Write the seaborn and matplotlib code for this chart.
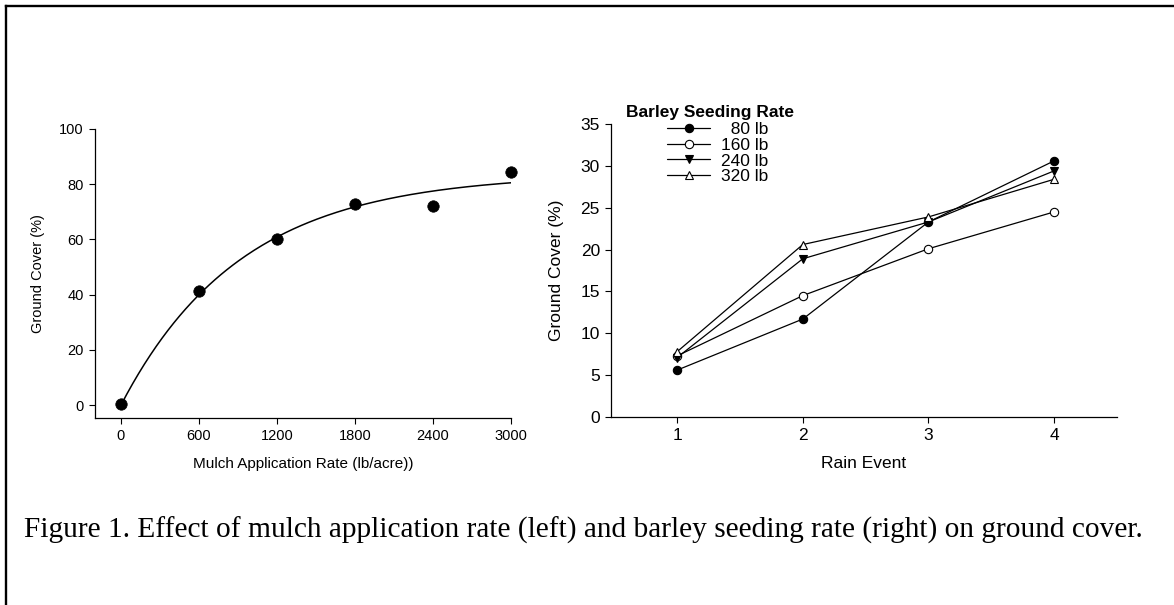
import numpy as np
import pandas as pd
import matplotlib
matplotlib.use("Agg")
import matplotlib.pyplot as plt
from matplotlib.lines import Line2D
import seaborn as sns

# ---------------- data ----------------
mulch_rate = [0, 600, 1200, 1800, 2400, 3000]
mulch_cover = [0.2, 41.3, 60.2, 73.0, 72.0, 84.6]

rain_event = [1, 2, 3, 4]
cover_80 = [5.6, 11.7, 23.3, 30.6]
cover_160 = [7.3, 14.5, 20.1, 24.5]
cover_240 = [7.1, 18.9, 23.3, 29.4]
cover_320 = [7.8, 20.6, 23.9, 28.4]
seeding_labels = ["  80 lb", "160 lb", "240 lb", "320 lb"]

left_xticks = [0, 600, 1200, 1800, 2400, 3000]
left_yticks = [0, 20, 40, 60, 80, 100]
right_xticks = [1, 2, 3, 4]
right_yticks = [0, 5, 10, 15, 20, 25, 30, 35]

caption = ("Figure 1. Effect of mulch application rate (left) and barley "
           "seeding rate (right) on ground cover.")

# ---------------- style ----------------
sns.set_theme(style="ticks")
plt.rcParams["font.family"] = ["Liberation Sans", "DejaVu Sans"]
plt.rcParams["axes.edgecolor"] = "black"
plt.rcParams["axes.linewidth"] = 0.9
plt.rcParams["xtick.color"] = "black"
plt.rcParams["ytick.color"] = "black"
plt.rcParams["text.color"] = "black"
plt.rcParams["axes.labelcolor"] = "black"

W, H = 1174, 605
fig = plt.figure(figsize=(W / 100, H / 100), dpi=100)
fig.patch.set_facecolor("white")

def fx(px):
    return px / W

def fy(py):
    return 1 - py / H

# ---------------- left panel ----------------
axL = fig.add_axes([fx(95), fy(418), fx(511) - fx(95), fy(129) - fy(418)])
axL.set_facecolor("white")

# exponential rise-to-max fit, y = a(1 - exp(-b x)), least squares on the data
xr = np.array(mulch_rate, float)
yr = np.array(mulch_cover, float)
best = None
for b in np.linspace(0.0002, 0.005, 4000):
    f = 1 - np.exp(-b * xr)
    a = (f @ yr) / (f @ f)
    sse = np.sum((yr - a * f) ** 2)
    if best is None or sse < best[0]:
        best = (sse, a, b)
_, a_fit, b_fit = best
xfit = np.linspace(0, 3000, 200)
fit_df = pd.DataFrame({"rate": xfit, "cover": a_fit * (1 - np.exp(-b_fit * xfit))})
sns.lineplot(data=fit_df, x="rate", y="cover", color="black", linewidth=1.1, ax=axL)

pts = pd.DataFrame({"rate": mulch_rate, "cover": mulch_cover})
sns.scatterplot(data=pts, x="rate", y="cover", color="black", s=68,
                edgecolor="black", linewidth=0.5, ax=axL, zorder=3, clip_on=False)

axL.set_xlim(-200, 3000)
axL.set_ylim(-4.7, 100)
axL.set_xticks(left_xticks)
axL.set_yticks(left_yticks)
axL.tick_params(labelsize=10.5, length=4, width=0.8, direction="out", pad=4)
axL.set_xlabel("Mulch Application Rate (lb/acre))", fontsize=11, labelpad=10)
axL.set_ylabel("Ground Cover (%)", fontsize=10.5, labelpad=10)
sns.despine(ax=axL)

# ---------------- right panel ----------------
axR = fig.add_axes([fx(611), fy(417), fx(1117) - fx(611), fy(124) - fy(417)])
axR.set_facecolor("white")

series = [cover_80, cover_160, cover_240, cover_320]
markers = ["o", "o", "v", "^"]
faces = ["black", "white", "black", "white"]
for vals, mk, fc, lab in zip(series, markers, faces, seeding_labels):
    df = pd.DataFrame({"event": rain_event, "cover": vals})
    sns.lineplot(data=df, x="event", y="cover", color="black", linewidth=0.9,
                 marker=mk, markersize=6, markerfacecolor=fc,
                 markeredgecolor="black", markeredgewidth=0.8, ax=axR,
                 label=lab, clip_on=False)

axR.set_xlim(0.474, 4.5)
axR.set_ylim(0, 35)
axR.set_xticks(right_xticks)
axR.set_yticks(right_yticks)
axR.tick_params(labelsize=12.5, length=4, width=0.8, direction="out", pad=4)
axR.set_xlabel("Rain Event", fontsize=12.5, labelpad=9)
axR.set_ylabel("Ground Cover (%)", fontsize=12.5, labelpad=12)
sns.despine(ax=axR)

handles, labels = axR.get_legend_handles_labels()
leg = axR.legend(handles, labels,
                 loc="upper left", bbox_to_anchor=(fx(667), fy(122)),
                 bbox_transform=fig.transFigure, frameon=False,
                 fontsize=12.5, handlelength=2.5, handletextpad=0.6,
                 labelspacing=0.03, borderpad=0, borderaxespad=0)
for t in leg.get_texts():
    t.set_color("black")
fig.text(fx(626), fy(112.5), "Barley Seeding Rate", fontsize=12.5,
         fontweight="bold", ha="left", va="center")

# ---------------- caption ----------------
cap = fig.text(fx(24), fy(530), caption, family=["Liberation Serif", "DejaVu Serif"],
               fontsize=20, va="center", ha="left", color="black")
fig.canvas.draw()
r = fig.canvas.get_renderer()
bb = cap.get_window_extent(r)
cap.set_fontsize(20 * (1120 / bb.width))

# ---------------- outer frame (left and top edges) ----------------
fig.add_artist(Line2D([fx(6), fx(6)], [0, fy(6)], transform=fig.transFigure,
                      color="black", linewidth=1.7, solid_capstyle="projecting"))
fig.add_artist(Line2D([fx(6), 1.0], [fy(6), fy(6)], transform=fig.transFigure,
                      color="black", linewidth=1.7, solid_capstyle="projecting"))

fig.savefig("out.png", dpi=100, facecolor="white")
